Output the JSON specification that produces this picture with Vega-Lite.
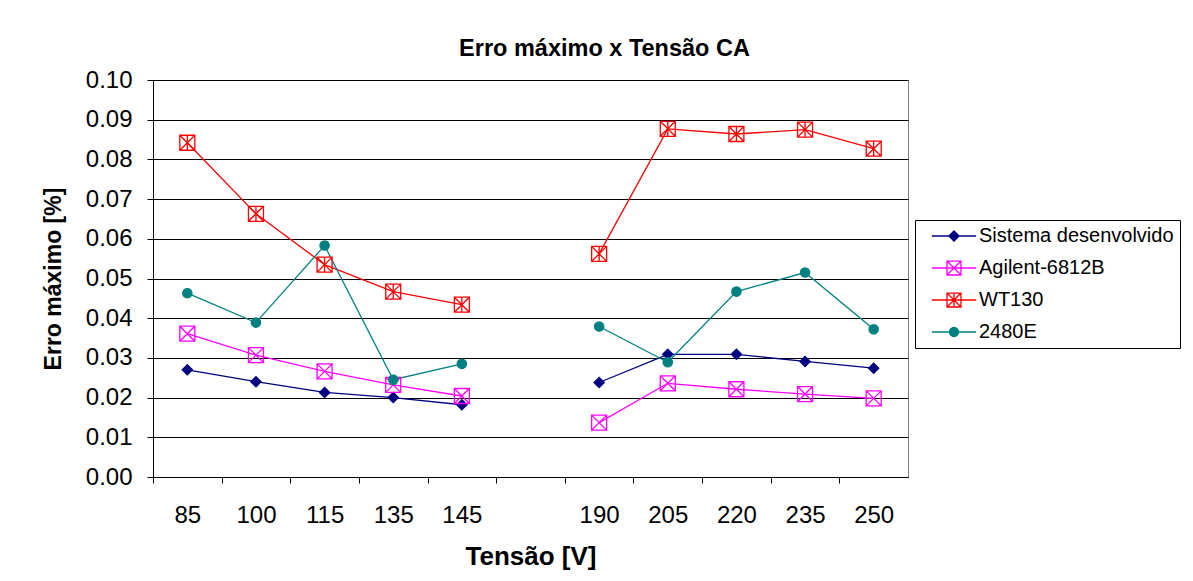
{
  "$schema": "https://vega.github.io/schema/vega-lite/v6.json",
  "width": 755,
  "height": 397,
  "autosize": "none",
  "padding": {"left": 153, "top": 80, "right": 285, "bottom": 104},
  "background": "white",
  "config": {
    "view": {"stroke": "#808080", "strokeWidth": 1},
    "font": "Liberation Sans"
  },
  "title": {
    "text": "Erro máximo x Tensão CA",
    "font": "Liberation Sans",
    "fontSize": 23.5,
    "fontWeight": "bold",
    "color": "black",
    "anchor": "middle",
    "frame": "group",
    "dx": 74,
    "offset": 8
  },
  "data": {
    "values": [
      {"tensao": "85", "serie": "Sistema desenvolvido", "erro": 0.0270},
      {"tensao": "100", "serie": "Sistema desenvolvido", "erro": 0.0240},
      {"tensao": "115", "serie": "Sistema desenvolvido", "erro": 0.0213},
      {"tensao": "135", "serie": "Sistema desenvolvido", "erro": 0.0200},
      {"tensao": "145", "serie": "Sistema desenvolvido", "erro": 0.0182},
      {"tensao": " ", "serie": "Sistema desenvolvido", "erro": null},
      {"tensao": "190", "serie": "Sistema desenvolvido", "erro": 0.0238},
      {"tensao": "205", "serie": "Sistema desenvolvido", "erro": 0.0309},
      {"tensao": "220", "serie": "Sistema desenvolvido", "erro": 0.0309},
      {"tensao": "235", "serie": "Sistema desenvolvido", "erro": 0.0291},
      {"tensao": "250", "serie": "Sistema desenvolvido", "erro": 0.0274},
      {"tensao": "85", "serie": "Agilent-6812B", "erro": 0.0361},
      {"tensao": "100", "serie": "Agilent-6812B", "erro": 0.0307},
      {"tensao": "115", "serie": "Agilent-6812B", "erro": 0.0266},
      {"tensao": "135", "serie": "Agilent-6812B", "erro": 0.0232},
      {"tensao": "145", "serie": "Agilent-6812B", "erro": 0.0204},
      {"tensao": " ", "serie": "Agilent-6812B", "erro": null},
      {"tensao": "190", "serie": "Agilent-6812B", "erro": 0.0137},
      {"tensao": "205", "serie": "Agilent-6812B", "erro": 0.0236},
      {"tensao": "220", "serie": "Agilent-6812B", "erro": 0.0221},
      {"tensao": "235", "serie": "Agilent-6812B", "erro": 0.0209},
      {"tensao": "250", "serie": "Agilent-6812B", "erro": 0.0198},
      {"tensao": "85", "serie": "WT130", "erro": 0.0842},
      {"tensao": "100", "serie": "WT130", "erro": 0.0663},
      {"tensao": "115", "serie": "WT130", "erro": 0.0535},
      {"tensao": "135", "serie": "WT130", "erro": 0.0467},
      {"tensao": "145", "serie": "WT130", "erro": 0.0434},
      {"tensao": " ", "serie": "WT130", "erro": null},
      {"tensao": "190", "serie": "WT130", "erro": 0.0562},
      {"tensao": "205", "serie": "WT130", "erro": 0.0877},
      {"tensao": "220", "serie": "WT130", "erro": 0.0864},
      {"tensao": "235", "serie": "WT130", "erro": 0.0875},
      {"tensao": "250", "serie": "WT130", "erro": 0.0827},
      {"tensao": "85", "serie": "2480E", "erro": 0.0463},
      {"tensao": "100", "serie": "2480E", "erro": 0.0389},
      {"tensao": "115", "serie": "2480E", "erro": 0.0583},
      {"tensao": "135", "serie": "2480E", "erro": 0.0245},
      {"tensao": "145", "serie": "2480E", "erro": 0.0285},
      {"tensao": " ", "serie": "2480E", "erro": null},
      {"tensao": "190", "serie": "2480E", "erro": 0.0379},
      {"tensao": "205", "serie": "2480E", "erro": 0.0289},
      {"tensao": "220", "serie": "2480E", "erro": 0.0467},
      {"tensao": "235", "serie": "2480E", "erro": 0.0515},
      {"tensao": "250", "serie": "2480E", "erro": 0.0372}
    ]
  },
  "encoding": {
    "x": {
      "field": "tensao",
      "type": "ordinal",
      "bandPosition": 0.5,
      "scale": {
        "type": "band",
        "domain": ["85", "100", "115", "135", "145", " ", "190", "205", "220", "235", "250"],
        "paddingInner": 0,
        "paddingOuter": 0
      },
      "axis": {
        "title": "Tensão [V]",
        "titleFont": "Liberation Sans",
        "titleFontSize": 26,
        "titleFontWeight": "bold",
        "titleColor": "black",
        "titlePadding": 16,
        "labelFont": "Liberation Sans",
        "labelFontSize": 24,
        "labelColor": "black",
        "labelAngle": 0,
        "labelPadding": 20,
        "tickOffset": -34.32,
        "labelOffset": 34.32,
        "tickSize": 6,
        "tickColor": "black",
        "domainColor": "black",
        "grid": false
      }
    },
    "y": {
      "field": "erro",
      "type": "quantitative",
      "scale": {"domain": [0, 0.1], "nice": false, "zero": true},
      "axis": {
        "title": "Erro máximo [%]",
        "titleFont": "Liberation Sans",
        "titleFontSize": 23,
        "titleFontWeight": "bold",
        "titleColor": "black",
        "titlePadding": 20,
        "values": [0, 0.01, 0.02, 0.03, 0.04, 0.05, 0.06, 0.07, 0.08, 0.09, 0.1],
        "format": ".2f",
        "labelFont": "Liberation Sans",
        "labelFontSize": 24,
        "labelColor": "black",
        "labelPadding": 15,
        "tickSize": 6,
        "tickColor": "black",
        "domainColor": "black",
        "grid": true,
        "gridColor": "black",
        "gridWidth": 1
      }
    },
    "stroke": {
      "field": "serie",
      "type": "nominal",
      "scale": {
        "domain": ["Sistema desenvolvido", "Agilent-6812B", "WT130", "2480E"],
        "range": ["#000080", "#FF00FF", "#FF0000", "#008080"]
      },
      "legend": {
        "title": null,
        "orient": "none",
        "legendX": 762,
        "legendY": 140,
        "padding": 6,
        "strokeColor": "black",
        "fillColor": "white",
        "labelFont": "Liberation Sans",
        "labelFontSize": 20,
        "labelColor": "black",
        "labelOffset": 15,
        "symbolOffset": 23,
        "symbolSize": 225,
        "symbolStrokeWidth": 1.3,
        "rowPadding": 12,
        "labelLimit": 400,
        "encoding": {
          "symbols": {
            "shape": {
              "value": {
                "expr": "datum.value === 'Sistema desenvolvido' ? 'M-2.95,0H2.95M0,-0.68L0.68,0L0,0.68L-0.68,0Z' : datum.value === 'Agilent-6812B' ? 'M-2.95,0H2.95M-0.93,-0.93H0.93V0.93H-0.93ZM-0.93,-0.93L0.93,0.93M-0.93,0.93L0.93,-0.93' : datum.value === 'WT130' ? 'M-2.95,0H2.95M-0.93,-0.93H0.93V0.93H-0.93ZM-0.93,-0.93L0.93,0.93M-0.93,0.93L0.93,-0.93M0,-0.93V0.93' : 'M-2.95,0H2.95M0.6,0L0.554,0.23L0.424,0.424L0.23,0.554L0,0.6L-0.23,0.554L-0.424,0.424L-0.554,0.23L-0.6,0L-0.554,-0.23L-0.424,-0.424L-0.23,-0.554L0,-0.6L0.23,-0.554L0.424,-0.424L0.554,-0.23Z'"
              }
            }
          }
        }
      }
    }
  },
  "layer": [
    {
      "mark": {"type": "line", "strokeWidth": 1.3, "invalid": "break-paths-show-domains"}
    },
    {
      "transform": [{"filter": "datum.serie === 'Sistema desenvolvido'"}],
      "mark": {"type": "point", "opacity": 1, "strokeWidth": 1.3, "size": 225, "shape": "M0,-0.68L0.68,0L0,0.68L-0.68,0Z"},
      "encoding": {
        "fill": {
          "field": "serie",
          "type": "nominal",
          "scale": {
            "domain": ["Sistema desenvolvido", "Agilent-6812B", "WT130", "2480E"],
            "range": ["#000080", "transparent", "transparent", "#008080"]
          }
        }
      }
    },
    {
      "transform": [{"filter": "datum.serie === 'Agilent-6812B'"}],
      "mark": {"type": "point", "opacity": 1, "strokeWidth": 1.3, "size": 225, "shape": "M-1,-1H1V1H-1ZM-1,-1L1,1M-1,1L1,-1"},
      "encoding": {
        "fill": {"field": "serie", "type": "nominal"}
      }
    },
    {
      "transform": [{"filter": "datum.serie === 'WT130'"}],
      "mark": {"type": "point", "opacity": 1, "strokeWidth": 1.3, "size": 225, "shape": "M-1,-1H1V1H-1ZM-1,-1L1,1M-1,1L1,-1M0,-1V1"},
      "encoding": {
        "fill": {"field": "serie", "type": "nominal"}
      }
    },
    {
      "transform": [{"filter": "datum.serie === '2480E'"}],
      "mark": {"type": "point", "opacity": 1, "strokeWidth": 1.3, "size": 225, "shape": "M0.62,0L0.573,0.237L0.438,0.438L0.237,0.573L0,0.62L-0.237,0.573L-0.438,0.438L-0.573,0.237L-0.62,0L-0.573,-0.237L-0.438,-0.438L-0.237,-0.573L0,-0.62L0.237,-0.573L0.438,-0.438L0.573,-0.237Z"},
      "encoding": {
        "fill": {"field": "serie", "type": "nominal"}
      }
    }
  ]
}
